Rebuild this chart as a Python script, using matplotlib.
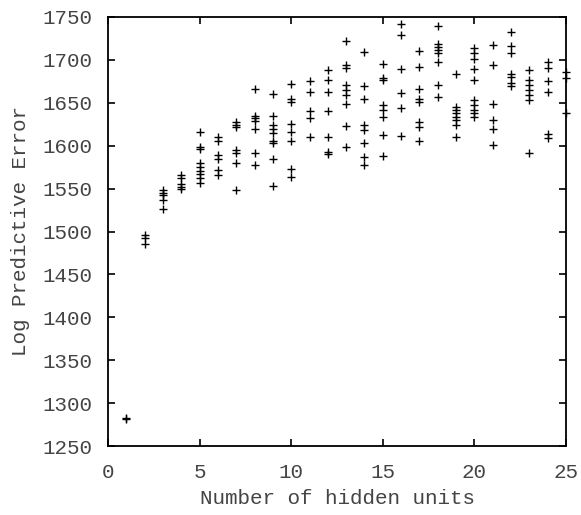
import matplotlib
matplotlib.use("Agg")
import matplotlib.pyplot as plt

hidden_units = list(range(1, 26))
errors = [
    [1283, 1281],
    [1496, 1493, 1485],
    [1548, 1545, 1542, 1537, 1526],
    [1566, 1562, 1555, 1552, 1549],
    [1616, 1598, 1596, 1580, 1575, 1571, 1567, 1562, 1557],
    [1610, 1605, 1589, 1585, 1572, 1566],
    [1628, 1624, 1622, 1595, 1591, 1580, 1548],
    [1666, 1635, 1632, 1629, 1619, 1591, 1578],
    [1660, 1635, 1624, 1620, 1615, 1606, 1603, 1585, 1553],
    [1672, 1654, 1651, 1625, 1616, 1606, 1573, 1564],
    [1675, 1663, 1640, 1632, 1610],
    [1688, 1677, 1663, 1641, 1610, 1593, 1590],
    [1722, 1694, 1690, 1671, 1665, 1659, 1649, 1623, 1598],
    [1709, 1670, 1654, 1624, 1618, 1603, 1587, 1578],
    [1695, 1679, 1676, 1647, 1642, 1634, 1612, 1588],
    [1742, 1729, 1689, 1661, 1644, 1611],
    [1710, 1692, 1666, 1654, 1651, 1628, 1622, 1605],
    [1740, 1719, 1715, 1711, 1708, 1698, 1671, 1657],
    [1684, 1645, 1642, 1638, 1634, 1630, 1624, 1610],
    [1714, 1708, 1701, 1689, 1676, 1653, 1647, 1642, 1638, 1633],
    [1717, 1694, 1649, 1630, 1619, 1601],
    [1733, 1716, 1708, 1684, 1680, 1673, 1669],
    [1688, 1676, 1671, 1665, 1659, 1653, 1591],
    [1697, 1690, 1675, 1663, 1614, 1609],
    [1686, 1679, 1638],
]
x_ticks = [0, 5, 10, 15, 20, 25]
y_ticks = [1250, 1300, 1350, 1400, 1450, 1500, 1550, 1600, 1650, 1700, 1750]

plt.rcParams['font.family'] = ['Liberation Mono', 'DejaVu Sans Mono']

fig = plt.figure(figsize=(5.81, 5.15), dpi=100)
ax = fig.add_axes([108/581, 1-446/515, (566-108)/581, (446-17)/515])

xs, ys = [], []
for h, vals in zip(hidden_units, errors):
    for v in vals:
        xs.append(h)
        ys.append(v)
ax.plot(xs, ys, linestyle='none', marker='+', markersize=5.5,
        markeredgewidth=1.0, color='black', clip_on=False)

ax.set_xlim(0, 25)
ax.set_ylim(1250, 1750)
ax.set_xticks(x_ticks)
ax.set_yticks(y_ticks)
ax.tick_params(direction='in', length=5, width=1.2, top=True, right=True,
               labelsize=15, colors='black', labelcolor='#444444')
ax.tick_params(axis='y', pad=11)
ax.tick_params(axis='x', pad=12)
for s in ax.spines.values():
    s.set_linewidth(1.3)
ax.set_xlabel('Number of hidden units', fontsize=15, color='#444444', labelpad=5)
ax.set_ylabel('Log Predictive Error', fontsize=15, color='#444444', labelpad=9)

fig.savefig('out.png', dpi=100)
